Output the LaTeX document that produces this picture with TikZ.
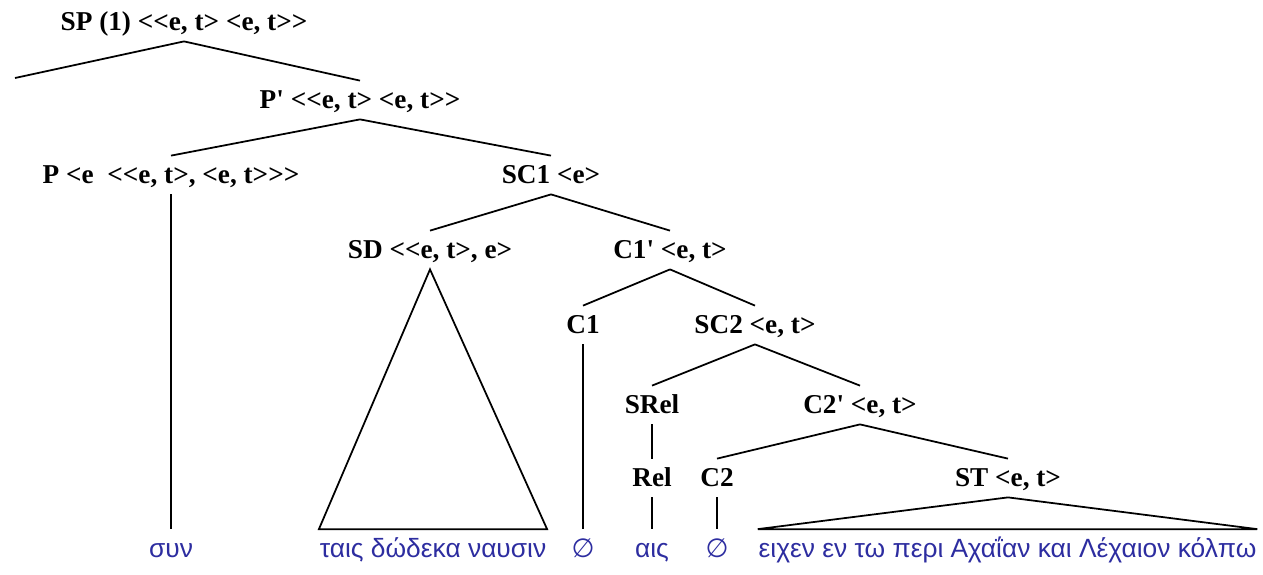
\documentclass[tikz,border=0pt]{standalone}
\usepackage{fontspec}
\setmainfont{Liberation Serif}[Ligatures=TeXOff]
\newfontfamily\greekfont{Liberation Sans}
\newfontfamily\symfont{DejaVu Sans}
\definecolor{leafblue}{RGB}{45,45,160}
\tikzset{
  cat/.style={font=\fontsize{15.5}{17}\selectfont\bfseries, inner xsep=0pt, inner ysep=0.2cm, text height=0.34cm, text depth=0cm},
  leaf/.style={font=\fontsize{15}{17}\greekfont, text=leafblue, inner xsep=0pt, inner ysep=0.25cm, text height=0.3cm, text depth=0.08cm},
  branch/.style={line width=1pt}
}
\begin{document}
\begin{tikzpicture}[branch]
    \useasboundingbox (0,0) rectangle (25.26,-11.48);
    % categories
    \node[cat] (sp) at (3.68,-0.44) {SP (1) <<e, t> <e, t>>};
    \coordinate (spl) at (0.3,-1.56);
    \node[cat] (pp) at (7.2,-2.0) {P' <<e, t> <e, t>>};
    \node[cat] (p) at (3.42,-3.5) {P <e\ \ <<e, t>, <e, t>>>};
    \node[cat] (sc1) at (11.02,-3.5) {SC1 <e>};
    \node[cat] (sd) at (8.6,-5.0) {SD <<e, t>, e>};
    \node[cat] (c1p) at (13.4,-5.0) {C1' <e, t>};
    \node[cat] (c1) at (11.66,-6.5) {C1};
    \node[cat] (sc2) at (15.1,-6.5) {SC2 <e, t>};
    \node[cat] (srel) at (13.04,-8.1) {SRel};
    \node[cat] (c2p) at (17.2,-8.1) {C2' <e, t>};
    \node[cat] (rel) at (13.04,-9.56) {Rel};
    \node[cat] (c2) at (14.34,-9.56) {C2};
    \node[cat] (st) at (20.16,-9.56) {ST <e, t>};
    % words
    \node[leaf] (syn) at (3.42,-11.04) {συν};
    \node[leaf] (tais) at (8.66,-11.04) {ταις δώδεκα ναυσιν};
    \node[leaf] (null1) at (11.66,-11.04) {\symfont ∅};
    \node[leaf] (ais) at (13.04,-11.04) {αις};
    \node[leaf] (null2) at (14.34,-11.04) {\symfont ∅};
    \node[leaf] (eixen) at (20.15,-11.04) {ειχεν εν τω περι Αχαΐαν και Λέχαιον κόλπω};
    % branches
    \draw (sp.south) edge (spl) edge (pp.north);
    \draw (pp.south) edge (p.north) edge (sc1.north);
    \draw (sc1.south) edge (sd.north) edge (c1p.north);
    \draw (c1p.south) edge (c1.north) edge (sc2.north);
    \draw (sc2.south) edge (srel.north) edge (c2p.north);
    \draw (c2p.south) edge (c2.north) edge (st.north);
    \draw (p) edge (syn) (c1) edge (null1) (srel) edge (rel) (rel) edge (ais) (c2) edge (null2);
    \draw (sd.south) -- (tais.north west) -- (tais.north east) -- cycle;
    \draw (st.south) -- (eixen.north west) -- (eixen.north east) -- cycle;
\end{tikzpicture}
\end{document}
